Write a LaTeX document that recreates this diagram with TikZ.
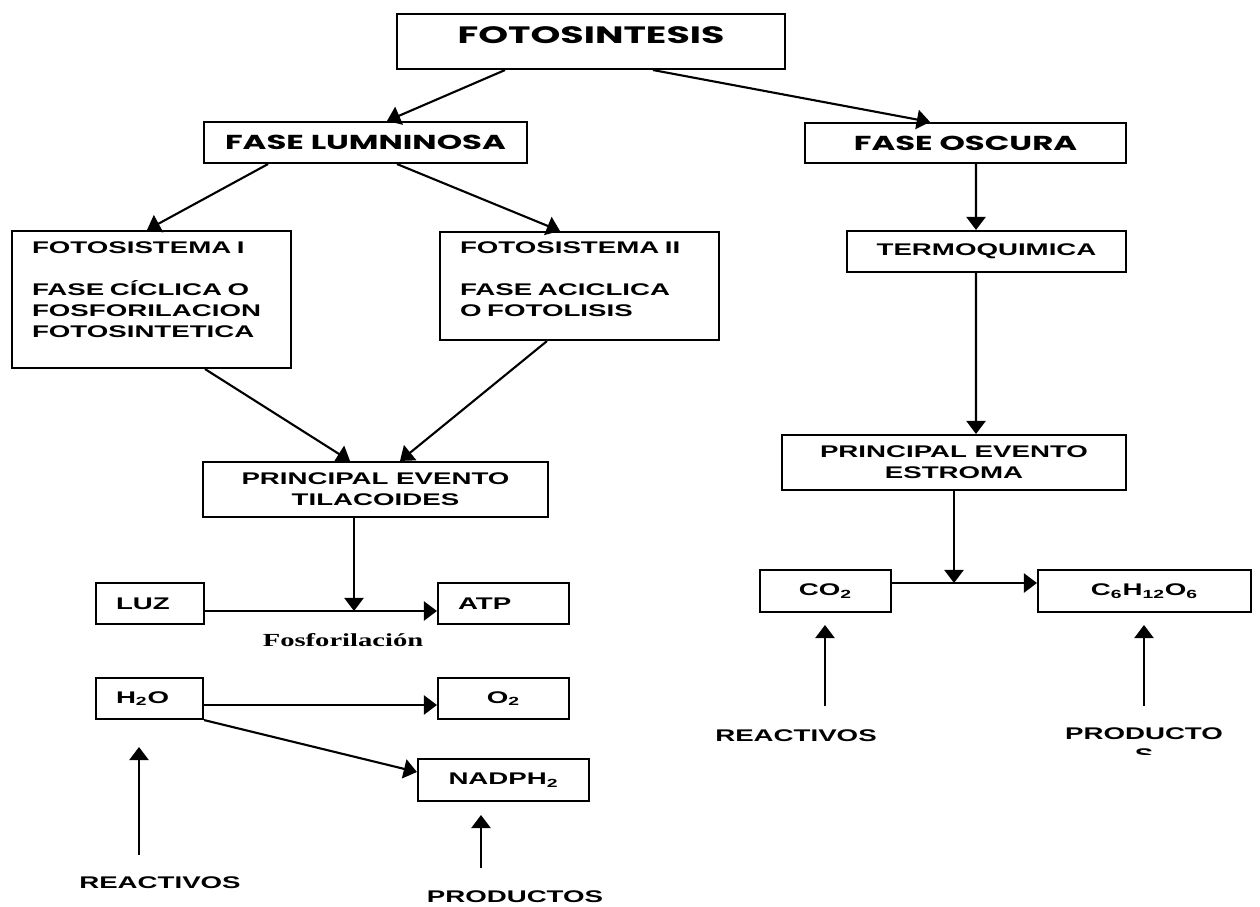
\documentclass[tikz,border=0pt]{standalone}
\usepackage{fontspec}
\setmainfont{Liberation Sans}[FakeStretch=1.64]
\newfontfamily\comicfont{Poppins}[FakeStretch=1.6]
\newfontfamily\timesfont{Liberation Serif}[FakeStretch=1.55]
\usepackage{tikz}
\usetikzlibrary{arrows.meta,positioning}

\begin{document}
\begin{tikzpicture}[
  x=0.02cm, y=-0.02cm,
  box/.style={draw,line width=1.2pt,inner sep=0pt,align=center,font=\bfseries\fontsize{9.6}{11.9}\selectfont},
  cbox/.style={box,minimum height=0.82cm,font=\comicfont\bfseries\fontsize{11.5}{14}\selectfont},
  lbox/.style={box,align=left,inner xsep=0.4cm},
  lbl/.style={inner sep=0pt,font=\bfseries\fontsize{9.6}{11.9}\selectfont},
  arr/.style={-{Triangle[length=7.5pt,width=11pt]},line width=1.2pt}
]
  \useasboundingbox (0,0) rectangle (1260,906);

  % Top level
  \node[cbox,minimum width=7.76cm,minimum height=1.1cm,text depth=0.24cm,font=\comicfont\bfseries\fontsize{13.5}{14}\selectfont] (fotos) at (591,41.5) {FOTOSINTESIS};
  \node[cbox,minimum width=6.46cm] (luminosa) at (365.5,142.5) {FASE LUMNINOSA};
  \node[cbox,minimum width=6.42cm,minimum height=0.8cm] (oscura) at (965.5,143) {FASE OSCURA};

  % Fase luminosa
  \node[lbox,text width=4.78cm,minimum height=2.74cm,text depth=2.07cm] (fs1) at (151.5,299.5) {FOTOSISTEMA I\\[11.9pt]FASE CÍCLICA O\\FOSFORILACION\\FOTOSINTETICA};
  \node[lbox,text width=4.78cm,minimum height=2.16cm,text depth=1.53cm] (fs2) at (579.5,286) {FOTOSISTEMA II\\[11.9pt]FASE ACICLICA\\O FOTOLISIS};
  \node[box,minimum width=6.9cm,minimum height=1.1cm] (til) at (375.5,489.5) {PRINCIPAL EVENTO\\TILACOIDES};

  \node[lbox,text width=1.36cm,minimum height=0.82cm] (luz) at (150,603.5) {LUZ};
  \node[lbox,text width=1.82cm,minimum height=0.82cm] (atp) at (503.5,603.5) {ATP};
  \node[lbl,font=\timesfont\bfseries\fontsize{10.5}{12}\selectfont] (fosfo) at (343,640) {Fosforilación};
  \node[lbox,text width=1.34cm,minimum height=0.82cm] (agua) at (149.5,698.5) {H\textsubscript{2}O};
  \node[box,minimum width=2.62cm,minimum height=0.82cm] (oxigeno) at (503.5,698.5) {O\textsubscript{2}};
  \node[box,minimum width=3.42cm,minimum height=0.84cm] (nadph) at (503.5,780) {NADPH\textsubscript{2}};

  \node[lbl] (reac1) at (160,883) {REACTIVOS};
  \node[lbl] (prod1) at (515,897) {PRODUCTOS};

  % Fase oscura
  \node[box,minimum width=5.58cm,minimum height=0.82cm] (termo) at (986.5,251.5) {TERMOQUIMICA};
  \node[box,minimum width=6.88cm,minimum height=1.1cm] (estroma) at (954,462.5) {PRINCIPAL EVENTO\\ESTROMA};
  \node[box,minimum width=2.62cm,minimum height=0.84cm] (co2) at (825.5,591) {CO\textsubscript{2}};
  \node[box,minimum width=4.26cm,minimum height=0.84cm] (glucosa) at (1144.5,591) {C\textsubscript{6}H\textsubscript{12}O\textsubscript{6}};

  \node[lbl] (reac2) at (796,736) {REACTIVOS};
  \begin{scope}
    \clip (1000,700) rectangle (1260,754);
    \node[lbl,align=center,anchor=north] (prod2) at (1144,727) {PRODUCTO\\S};
  \end{scope}

  % Free ends
  \coordinate (j1) at (354,611);
  \coordinate (j2) at (954,583);
  \coordinate (r1a) at (139,855);  \coordinate (r1b) at (139,747);
  \coordinate (p1a) at (481,868);  \coordinate (p1b) at (481,815);
  \coordinate (r2a) at (825,706);  \coordinate (r2b) at (825,625);
  \coordinate (p2a) at (1144,706); \coordinate (p2b) at (1144,625);

  % Connectors
  \draw[arr] ([xshift=-1.72cm]fotos.south) -- ([xshift=0.43cm]luminosa.north);
  \draw[arr] ([xshift=1.24cm]fotos.south) -- ([xshift=-0.71cm]oscura.north);
  \draw[arr] ([xshift=-1.95cm]luminosa.south) -- ([xshift=-0.09cm]fs1.north);
  \draw[arr] ([xshift=0.63cm]luminosa.south) -- ([xshift=-0.39cm]fs2.north);
  \draw[arr] ([xshift=0.21cm]oscura.south) -- ([xshift=-0.21cm]termo.north);
  \draw[arr] ([xshift=-0.21cm]termo.south) -- ([xshift=0.44cm]estroma.north);
  \draw[arr] ([xshift=1.07cm]fs1.south) -- ([xshift=-0.51cm]til.north);
  \draw[arr] ([xshift=-0.65cm]fs2.south) -- ([xshift=0.49cm]til.north);
  \draw[arr] (til.south -| j1) -- (j1);
  \draw[arr] ([yshift=-0.15cm]luz.east) -- ([yshift=-0.15cm]atp.west);
  \draw[arr] ([yshift=-0.13cm]agua.east) -- ([yshift=-0.13cm]oxigeno.west);
  \draw[arr] (agua.south east) -- ([yshift=0.16cm]nadph.west);
  \draw[arr] (estroma.south) -- (j2);
  \draw[arr] ([yshift=0.16cm]co2.east) -- ([yshift=0.16cm]glucosa.west);

  \draw[arr] (r1a) -- (r1b);
  \draw[arr] (p1a) -- (p1b);
  \draw[arr] (r2a) -- (r2b);
  \draw[arr] (p2a) -- (p2b);
\end{tikzpicture}
\end{document}
